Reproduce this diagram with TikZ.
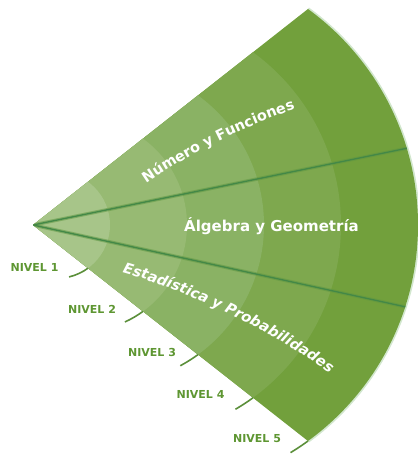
\documentclass[tikz,border=0pt]{standalone}
\usepackage{fontspec}
\setmainfont{DejaVu Sans}
\usetikzlibrary{decorations.text,calc}
\definecolor{ringA}{HTML}{A7C589}
\definecolor{ringB}{HTML}{97BA73}
\definecolor{ringC}{HTML}{8AB264}
\definecolor{ringD}{HTML}{7EA84E}
\definecolor{ringE}{HTML}{72A03C}
\definecolor{glowc}{HTML}{D2E7CE}
\definecolor{divcore}{HTML}{438847}
\definecolor{divhalo}{HTML}{5E9642}
\definecolor{lvlc}{HTML}{5E9632}
\definecolor{tickc}{HTML}{5B8F3A}
\tikzset{
  lvl/.style={font=\fontsize{11}{11}\selectfont\bfseries, text=lvlc, inner sep=0pt},
  tickline/.style={draw=tickc, line width=1.6pt},
  divhalo/.style={draw=divhalo, line width=3.4pt, opacity=0.55},
  divcore/.style={draw=divcore, line width=1.3pt},
  glow/.style={draw=glowc, line width=3.5pt},
  maintext/.style={font=\fontsize{15}{15}\selectfont\bfseries, text=white, inner sep=0pt}
}
\begin{document}
\begin{tikzpicture}[x=1pt,y=1pt]
\useasboundingbox (0,0) rectangle (418,456);
\coordinate (A) at (33,231);
\coordinate (C5) at (151,231);
% outer glow
\draw[glow] (C5) ++(-54:267) arc[start angle=-54, end angle=54, radius=267];
\begin{scope}
  \clip (A) -- ($(A)+(38.15:600)$) -- ($(A)+(-38.15:600)$) -- cycle;
  \fill[ringE] ({33+23.6*5},231) circle[radius={53.4*5}];
  \fill[ringD] ({33+23.6*4},231) circle[radius={53.4*4}];
  \fill[ringC] ({33+23.6*3},231) circle[radius={53.4*3}];
  \fill[ringB] ({33+23.6*2},231) circle[radius={53.4*2}];
  \fill[ringA] ({33+23.6*1},231) circle[radius={53.4*1}];
  \clip (C5) circle[radius=267];
  \coordinate (U) at ($(A)+(11.6:420)$);
  \coordinate (L) at ($(A)+(-12.4:420)$);
  \draw[divhalo] (A) -- (U);
  \draw[divhalo] (A) -- (L);
  \draw[divcore] (A) -- (U);
  \draw[divcore] (A) -- (L);
\end{scope}
% ticks
\foreach \k in {1,...,5}{
  \coordinate (E\k) at ($(A)+(-38.15:{69.94*\k})$);
  \draw[tickline] (E\k) arc[start angle=-54, delta angle={-22.5/\k}, radius={53.4*\k}];
}
% level labels
\node[lvl] (n1) at (34.5,189) {NIVEL 1};
\node[lvl] (n2) at (92,146.5) {NIVEL 2};
\node[lvl] (n3) at (152,103.5) {NIVEL 3};
\node[lvl] (n4) at (200.5,62) {NIVEL 4};
\node[lvl] (n5) at (257,17) {NIVEL 5};
% sector titles
\path[decorate, decoration={text along path, text align=center, text color=white,
  text={|\fontsize{14.5}{14.5}\selectfont\bfseries|Número y Funciones}}]
  (148,274) .. controls +(34:50) and +(198:50) .. (293,346);
\node[maintext, anchor=base] (alg) at (271.5,224) {Álgebra y Geometría};
\path[decorate, decoration={text along path, text align=center, text color=white,
  text={|\fontsize{14.5}{14.5}\selectfont\bfseries\itshape|Estadística y Probabilidades}}]
  (124,183) .. controls +(-16:70) and +(144:70) .. (328,84);
\end{tikzpicture}
\end{document}
